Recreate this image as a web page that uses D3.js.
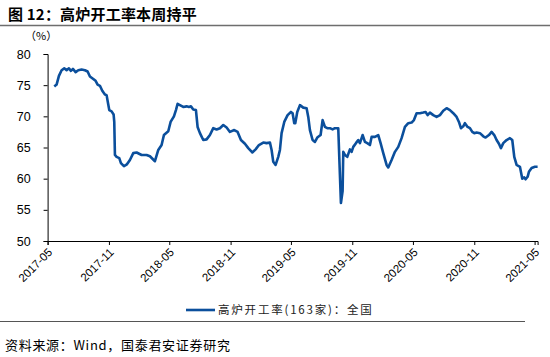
<!DOCTYPE html>
<html><head><meta charset="utf-8">
<script src="https://cdn.jsdelivr.net/npm/d3@7"></script>
<style>
body{margin:0;background:#fff;}
svg{display:block;}
</style></head>
<body>
<svg id="c" width="550" height="357"></svg>
<script>
const titleText = "图 12：高炉开工率本周持平";
const unitText = "（%）";
const legendText = "高炉开工率(163家)：全国";
const sourceText = "资料来源：Wind，国泰君安证券研究";
const yTicks = [50,55,60,65,70,75,80];
const xTickLabels = ["2017-05","2017-11","2018-05","2018-11","2019-05","2019-11","2020-05","2020-11","2021-05"];
const dates = ["2017-05-21","2017-05-28","2017-06-04","2017-06-12","2017-06-20","2017-06-27","2017-07-04","2017-07-10","2017-07-16","2017-07-24",
"2017-08-01","2017-08-11","2017-08-21","2017-08-29","2017-09-05","2017-09-15","2017-09-22","2017-09-28","2017-10-05","2017-10-12",
"2017-10-20","2017-10-25","2017-10-30","2017-11-02","2017-11-09","2017-11-15","2017-11-17","2017-11-19","2017-11-24","2017-12-02",
"2017-12-07","2017-12-16","2017-12-25","2018-01-03","2018-01-13","2018-01-23","2018-02-07","2018-02-22","2018-03-04","2018-03-19",
"2018-03-29","2018-04-08","2018-04-15","2018-04-28","2018-05-05","2018-05-15","2018-05-21","2018-05-26","2018-06-02","2018-06-12",
"2018-06-22","2018-06-29","2018-07-05","2018-07-12","2018-07-20","2018-07-25","2018-08-01","2018-08-11","2018-08-21","2018-08-31",
"2018-09-10","2018-09-20","2018-09-30","2018-10-10","2018-10-20","2018-10-30","2018-11-12","2018-11-22","2018-12-02","2018-12-14",
"2018-12-24","2019-01-05","2019-01-15","2019-01-25","2019-02-07","2019-02-17","2019-02-27","2019-03-04","2019-03-09","2019-03-16",
"2019-03-24","2019-03-29","2019-04-03","2019-04-11","2019-04-21","2019-05-01","2019-05-06","2019-05-11","2019-05-14","2019-05-20",
"2019-05-28","2019-06-07","2019-06-17","2019-06-22","2019-06-27","2019-07-05","2019-07-12","2019-07-19","2019-07-29","2019-08-04",
"2019-08-11","2019-08-18","2019-08-26","2019-09-03","2019-09-10","2019-09-20","2019-09-23","2019-09-28","2019-10-03","2019-10-05",
"2019-10-10","2019-10-17","2019-10-25","2019-10-30","2019-11-04","2019-11-12","2019-11-19","2019-11-24","2019-12-02","2019-12-09",
"2019-12-16","2019-12-24","2019-12-29","2020-01-08","2020-01-18","2020-01-25","2020-02-02","2020-02-12","2020-02-17","2020-02-27",
"2020-03-08","2020-03-18","2020-03-28","2020-04-07","2020-04-17","2020-04-27","2020-05-04","2020-05-12","2020-05-22","2020-06-01",
"2020-06-08","2020-06-14","2020-06-21","2020-07-01","2020-07-11","2020-07-21","2020-07-31","2020-08-10","2020-08-20","2020-08-30",
"2020-09-09","2020-09-16","2020-09-22","2020-09-29","2020-10-04","2020-10-12","2020-10-19","2020-10-26","2020-11-01","2020-11-08",
"2020-11-18","2020-11-28","2020-12-05","2020-12-15","2020-12-23","2020-12-31","2021-01-07","2021-01-14","2021-01-20","2021-01-27",
"2021-02-06","2021-02-16","2021-02-23","2021-03-01","2021-03-08","2021-03-18","2021-03-25","2021-03-31","2021-04-04","2021-04-10",
"2021-04-14","2021-04-22","2021-05-02","2021-05-10"];
const values = [74.8,75.1,76.5,77.4,77.7,77.4,77.7,77.3,77.6,77.1,
77.4,77.5,77.4,77.2,76.4,76.0,75.7,75.1,74.9,74.1,
73.5,73.4,71.9,71.0,70.8,70.3,69.1,63.8,63.5,63.3,
62.5,62.0,62.3,63.0,64.1,64.2,63.8,63.8,63.6,62.8,
64.6,65.4,67.0,67.6,69.1,70.0,71.0,72.0,71.8,71.5,
71.6,71.5,71.6,71.1,71.0,68.3,67.3,66.2,66.3,67.0,
68.1,67.9,68.1,68.6,68.2,67.5,67.8,67.5,66.2,65.6,
64.9,64.2,64.7,65.4,65.8,65.7,65.8,64.6,62.7,62.2,
63.5,64.6,67.3,69.1,70.2,70.7,70.5,68.9,68.9,70.7,
71.8,71.4,71.3,69.9,67.8,66.2,65.9,66.6,67.0,69.4,
68.3,68.1,68.1,67.9,68.1,68.1,63.5,56.1,58.0,64.3,
63.8,63.5,64.7,64.3,65.1,65.7,66.2,65.7,67.0,65.9,
65.7,65.4,66.7,66.7,67.0,65.7,64.1,62.2,61.8,63.0,
64.3,65.1,66.5,68.3,68.9,69.0,69.4,70.5,70.5,70.6,
70.7,70.2,70.6,70.2,69.9,70.2,70.9,71.3,71.0,70.5,
69.9,69.1,68.1,68.4,68.9,68.3,68.1,67.5,67.3,67.4,
67.3,66.8,66.6,67.0,67.5,67.0,66.2,65.6,64.9,65.7,
66.2,66.5,66.2,63.5,62.2,61.9,60.0,60.2,59.9,60.3,
61.1,61.7,61.9,61.9];

const parse = d3.timeParse("%Y-%m-%d");
const parseM = d3.timeParse("%Y-%m");
const data = dates.map((d,i)=>({date:parse(d), value:values[i]}));

const svg = d3.select("#c");
const cjk = "'Noto Sans CJK SC', sans-serif";
const latin = "'Liberation Sans', Arial, sans-serif";

// title
svg.append("text").attr("x",8).attr("y",20).attr("font-family",cjk).attr("font-weight","bold")
  .attr("font-size",15).attr("letter-spacing",0.2).attr("fill","#000").text(titleText);
svg.append("line").attr("x1",0).attr("x2",550).attr("y1",25.5).attr("y2",25.5)
  .attr("stroke","#6e6e6e").attr("stroke-width",1.5);

const x = d3.scaleTime().domain([parse("2017-05-01"), parse("2021-05-10")]).range([47.6, 537.6]);
const y = d3.scaleLinear().domain([50,80]).range([241,54]);

// y axis
const gy = svg.append("g").attr("transform","translate(47.6,0)")
  .call(d3.axisLeft(y).tickValues(yTicks).tickSize(4).tickPadding(13).tickFormat(d3.format("d")));
gy.selectAll("text").attr("font-family",latin).attr("font-size",12.5).attr("fill","#000");
gy.selectAll("line,path").attr("stroke","#000");

// x axis
const gx = svg.append("g").attr("transform","translate(0,241)")
  .call(d3.axisBottom(x).tickValues(xTickLabels.map(parseM)).tickSize(4).tickFormat(d3.timeFormat("%Y-%m")));
gx.selectAll("line,path").attr("stroke","#000");
gx.selectAll("text").attr("font-family",latin).attr("font-size",11.5).attr("fill","#000")
  .attr("text-anchor","end").attr("dy",0).attr("y",0)
  .attr("transform","translate(5,12) rotate(-45)");

svg.append("text").attr("x",25).attr("y",40).attr("font-family",cjk).attr("font-size",11)
  .attr("fill","#000").text(unitText);

// line
svg.append("path").datum(data).attr("fill","none").attr("stroke","#0b4f9c").attr("stroke-width",2.6)
  .attr("stroke-linejoin","round")
  .attr("d", d3.line().x(d=>x(d.date)).y(d=>y(d.value)));

// legend
svg.append("line").attr("x1",186).attr("x2",215).attr("y1",310).attr("y2",310)
  .attr("stroke","#0b4f9c").attr("stroke-width",2.6);
svg.append("text").attr("x",218).attr("y",314).attr("font-family",cjk).attr("font-size",11.5)
  .attr("letter-spacing",1.8).attr("fill","#222").text(legendText);

svg.append("line").attr("x1",0).attr("x2",525).attr("y1",321.5).attr("y2",321.5)
  .attr("stroke","#555").attr("stroke-width",1);

svg.append("text").attr("x",5).attr("y",350).attr("font-family",cjk).attr("font-size",13)
  .attr("letter-spacing",0.7).attr("fill","#000").text(sourceText);
</script>
</body></html>
